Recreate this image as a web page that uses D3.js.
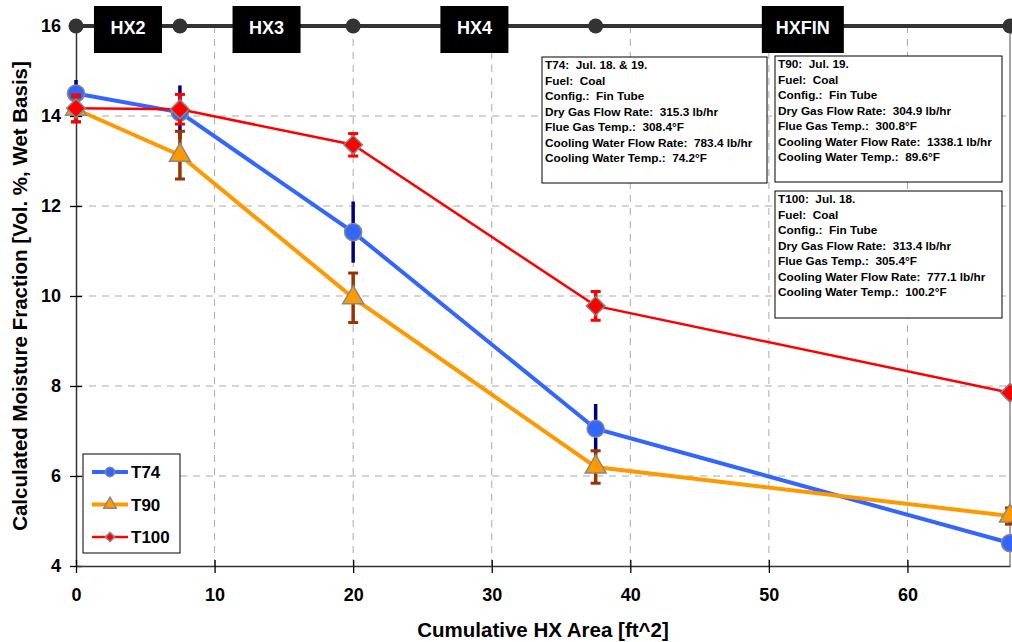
<!DOCTYPE html>
<html>
<head>
<meta charset="utf-8">
<script src="https://cdn.jsdelivr.net/npm/d3@7/dist/d3.min.js"></script>
<style>
  body { margin: 0; background: #fff; }
  svg { display: block; font-family: "Liberation Sans", Arial, sans-serif; }
  .note { white-space: pre; }
</style>
</head>
<body>
<svg id="chart" width="1012" height="642"></svg>
<script>
// Cumulative heat-exchanger area at each measurement station [ft^2]
const areas = [0, 7.5, 20, 37.5, 67.4];

// Moisture fraction per test [Vol. %, wet basis]
const t74 = [14.5, 14.08, 11.42, 7.05, 4.51];
const t90 = [14.15, 13.13, 9.96, 6.2, 5.11];
const t100 = [14.17, 14.15, 13.36, 9.78, 7.85];

// Uncertainty (± half-width) for each point
const t74Err = [0.3, 0.6, 0.68, 0.55, 0.15];
const t90Err = [0.28, 0.53, 0.55, 0.36, 0.18];
const t100Err = [0.3, 0.33, 0.25, 0.32, 0.1];

const seriesNames = ["T74", "T90", "T100"];

// Heat exchanger sections between stations
const hxLabels = ["HX2", "HX3", "HX4", "HXFIN"];

const yTicks = [4, 6, 8, 10, 12, 14, 16];
const xTicks = [0, 10, 20, 30, 40, 50, 60];

// Test condition notes
const t74Notes = ["T74:  Jul. 18. & 19.", "Fuel:  Coal", "Config.:  Fin Tube",
  "Dry Gas Flow Rate:  315.3 lb/hr", "Flue Gas Temp.:  308.4°F",
  "Cooling Water Flow Rate:  783.4 lb/hr", "Cooling Water Temp.:  74.2°F"];
const t90Notes = ["T90:  Jul. 19.", "Fuel:  Coal", "Config.:  Fin Tube",
  "Dry Gas Flow Rate:  304.9 lb/hr", "Flue Gas Temp.:  300.8°F",
  "Cooling Water Flow Rate:  1338.1 lb/hr", "Cooling Water Temp.:  89.6°F"];
const t100Notes = ["T100:  Jul. 18.", "Fuel:  Coal", "Config.:  Fin Tube",
  "Dry Gas Flow Rate:  313.4 lb/hr", "Flue Gas Temp.:  305.4°F",
  "Cooling Water Flow Rate:  777.1 lb/hr", "Cooling Water Temp.:  100.2°F"];

const svg = d3.select("#chart");
const x = d3.scaleLinear().domain([0, 67.4]).range([76, 1010]);
const y = d3.scaleLinear().domain([4, 16]).range([566, 26]);

// Gridlines
const grid = svg.append("g");
grid.selectAll(".gx").data(xTicks.filter(d => d > 0)).join("line")
  .attr("x1", d => x(d)).attr("x2", d => x(d))
  .attr("y1", y(16)).attr("y2", y(4))
  .attr("stroke", "#aaa").attr("stroke-width", 1).attr("stroke-dasharray", "7,6");
grid.selectAll(".gy").data(yTicks.filter(d => d > 4 && d < 16)).join("line")
  .attr("x1", x(0)).attr("x2", x(67.4))
  .attr("y1", d => y(d)).attr("y2", d => y(d))
  .attr("stroke", "#aaa").attr("stroke-width", 1).attr("stroke-dasharray", "7,6");

// Right frame
svg.append("line").attr("x1", x(67.4)).attr("x2", x(67.4))
  .attr("y1", y(16)).attr("y2", y(4)).attr("stroke", "#888").attr("stroke-width", 1.5);

// Axes
const yAxis = d3.axisLeft(y).tickValues(yTicks).tickSizeInner(6).tickSizeOuter(0);
const yg = svg.append("g").attr("transform", `translate(${x(0)},0)`).call(yAxis);
yg.attr("font-size", 18);
yg.select(".domain").attr("stroke", "#333").attr("stroke-width", 1.5);
yg.selectAll(".tick line").attr("x2", 6).attr("x1", -6).attr("stroke", "#000").attr("stroke-width", 1.3);
yg.selectAll(".tick text").attr("x", -15).attr("font-size", 18).attr("font-weight", "bold")
  .attr("fill", "#000").attr("font-family", "Liberation Sans, Arial, sans-serif");

const xAxis = d3.axisBottom(x).tickValues(xTicks).tickSizeInner(7).tickSizeOuter(0);
const xg = svg.append("g").attr("transform", `translate(0,${y(4)})`).call(xAxis);
xg.attr("font-size", 18);
xg.select(".domain").attr("stroke", "#333").attr("stroke-width", 1.5);
xg.selectAll(".tick line").attr("y1", -6).attr("y2", 7).attr("stroke", "#000").attr("stroke-width", 1.3);
xg.selectAll(".tick text").attr("y", 22).attr("font-size", 18).attr("font-weight", "bold")
  .attr("fill", "#000").attr("font-family", "Liberation Sans, Arial, sans-serif");

// Axis titles
svg.append("text").attr("transform", `translate(27,${y(10)}) rotate(-90)`)
  .attr("text-anchor", "middle").attr("font-size", 20.5).attr("font-weight", "bold")
  .text("Calculated Moisture Fraction [Vol. %, Wet Basis]");
svg.append("text").attr("x", 543).attr("y", 637)
  .attr("text-anchor", "middle").attr("font-size", 20.5).attr("font-weight", "bold")
  .text("Cumulative HX Area [ft^2]");

// HX section bar along the top
const hxBar = svg.append("g");
hxBar.append("line").attr("x1", x(0)).attr("x2", x(67.4))
  .attr("y1", y(16)).attr("y2", y(16)).attr("stroke", "#333").attr("stroke-width", 4);
hxBar.selectAll("circle").data(areas).join("circle")
  .attr("cx", d => x(d)).attr("cy", y(16)).attr("r", 7.5).attr("fill", "#333");
const hxBoxes = hxBar.selectAll("g.hx").data(hxLabels).join("g").attr("class", "hx")
  .attr("transform", (d, i) => `translate(${(x(areas[i]) + x(areas[i + 1])) / 2},${y(16) + 2})`);
hxBoxes.append("rect")
  .attr("x", d => d === "HXFIN" ? -41 : -34).attr("y", -22)
  .attr("width", d => d === "HXFIN" ? 82 : 68).attr("height", 47).attr("fill", "#000");
hxBoxes.append("text").attr("text-anchor", "middle").attr("dy", "0.36em")
  .attr("fill", "#fff").attr("font-size", 18).attr("font-weight", "bold").text(d => d);

// Series definitions
const series = [
  { name: seriesNames[0], values: t74, err: t74Err, color: "#3366ff", errColor: "#000080", width: 4, shape: "circle", cap: 0 },
  { name: seriesNames[1], values: t90, err: t90Err, color: "#ff9900", errColor: "#993300", width: 4, shape: "triangle", cap: 5 },
  { name: seriesNames[2], values: t100, err: t100Err, color: "#ff0000", errColor: "#ff0000", width: 2.5, shape: "diamond", cap: 5 }
];

// Marker glyphs; the diamond is a square turned 45°
function markerPath(shape) {
  if (shape === "circle") return d3.symbol(d3.symbolCircle, 230)();
  if (shape === "triangle") return d3.symbol(d3.symbolTriangle, 190)();
  return d3.symbol(d3.symbolSquare, 175)();
}
const markerRot = shape => shape === "diamond" ? " rotate(45)" : "";

const line = d3.line().x((d, i) => x(areas[i])).y(d => y(d));

series.forEach(s => {
  const g = svg.append("g");
  g.append("path").datum(s.values).attr("d", line)
    .attr("fill", "none").attr("stroke", s.color).attr("stroke-width", s.width);
  const eb = g.selectAll("g.err").data(s.values).join("g");
  eb.append("line")
    .attr("x1", (d, i) => x(areas[i])).attr("x2", (d, i) => x(areas[i]))
    .attr("y1", (d, i) => y(d + s.err[i])).attr("y2", (d, i) => y(d - s.err[i]))
    .attr("stroke", s.errColor).attr("stroke-width", 3.5);
  if (s.cap > 0) {
    [1, -1].forEach(sign => {
      eb.append("line")
        .attr("x1", (d, i) => x(areas[i]) - s.cap).attr("x2", (d, i) => x(areas[i]) + s.cap)
        .attr("y1", (d, i) => y(d + sign * s.err[i])).attr("y2", (d, i) => y(d + sign * s.err[i]))
        .attr("stroke", s.errColor).attr("stroke-width", 3);
    });
  }
  g.selectAll("path.mk").data(s.values).join("path").attr("class", "mk")
    .attr("d", markerPath(s.shape))
    .attr("transform", (d, i) => `translate(${x(areas[i])},${y(d)})${markerRot(s.shape)}`)
    .attr("fill", s.color).attr("stroke", "#888").attr("stroke-width", 1.5);
});

// Legend
const leg = svg.append("g").attr("transform", "translate(83,454)");
leg.append("rect").attr("width", 97).attr("height", 99)
  .attr("fill", "#fff").attr("stroke", "#000").attr("stroke-width", 1);
series.forEach((s, i) => {
  const ly = 18 + i * 32.5;
  leg.append("line").attr("x1", 9).attr("x2", 45).attr("y1", ly).attr("y2", ly)
    .attr("stroke", s.color).attr("stroke-width", s.width);
  const sc = s.shape === "circle" ? 0.55 : s.shape === "triangle" ? 0.6 : 0.5;
  leg.append("path").attr("d", markerPath(s.shape))
    .attr("transform", `translate(27,${ly}) scale(${sc})${markerRot(s.shape)}`)
    .attr("fill", s.color).attr("stroke", "#888").attr("stroke-width", 1.5 / sc);
  leg.append("text").attr("x", 48).attr("y", ly).attr("dy", "0.36em")
    .attr("font-size", 17).attr("font-weight", "bold").text(s.name);
});

// Test condition note boxes
function noteBox(lines, bx, by, bw, bh) {
  const g = svg.append("g").attr("transform", `translate(${bx},${by})`);
  g.append("rect").attr("width", bw).attr("height", bh)
    .attr("fill", "#fff").attr("stroke", "#000").attr("stroke-width", 1);
  g.selectAll("text").data(lines).join("text").attr("class", "note")
    .attr("x", 3).attr("y", (d, i) => 8 + i * 15.5).attr("dy", "0.36em")
    .attr("font-size", 11.8).attr("font-weight", "bold").text(d => d);
}
noteBox(t74Notes, 542, 57, 225, 126);
noteBox(t90Notes, 775, 56, 227, 126);
noteBox(t100Notes, 775, 191, 227, 127);
</script>
</body>
</html>
